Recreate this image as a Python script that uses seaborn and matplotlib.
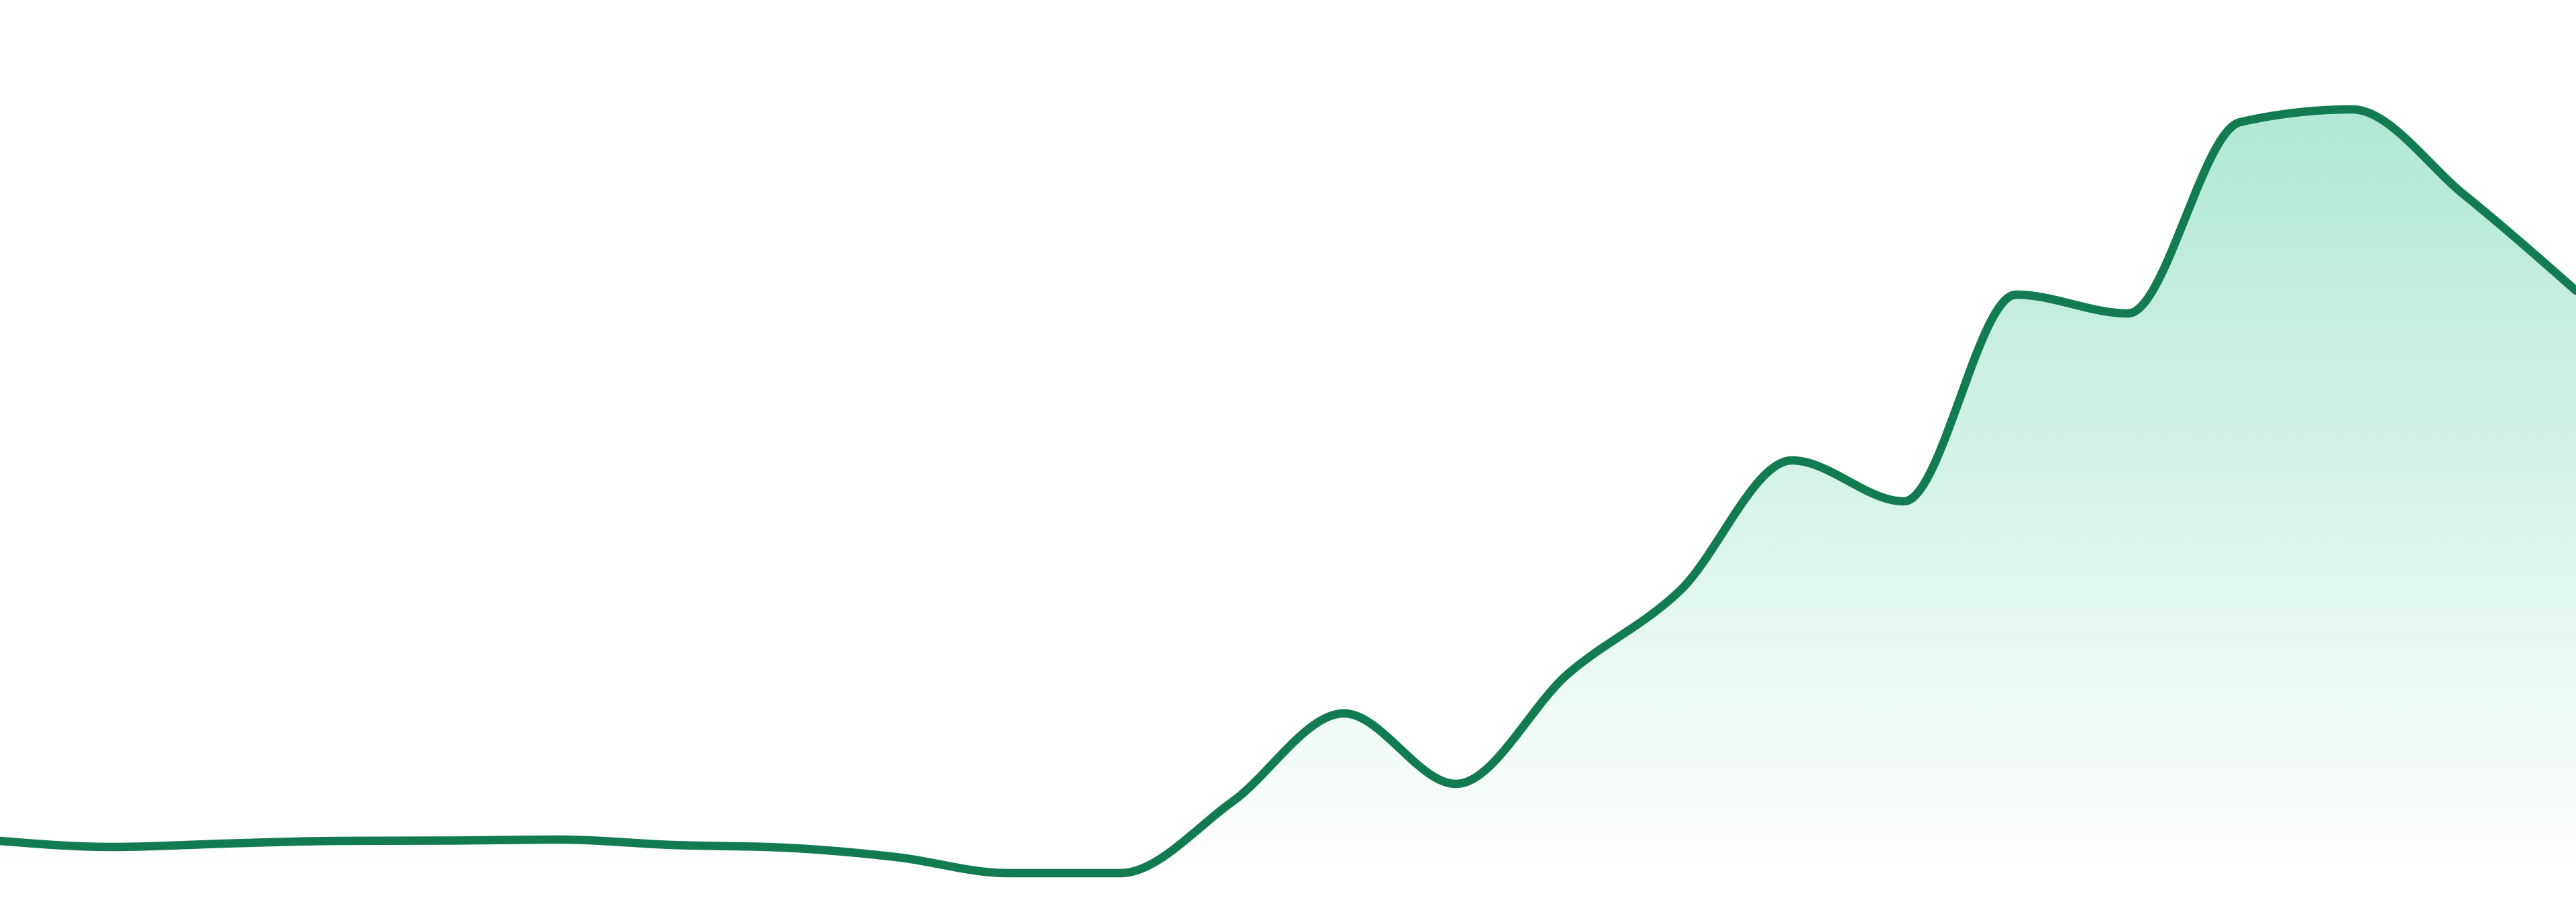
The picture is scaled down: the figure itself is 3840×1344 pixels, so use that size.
import numpy as np
import matplotlib
matplotlib.use("Agg")
import matplotlib.pyplot as plt
import seaborn as sns
from matplotlib.colors import to_rgb

# readings, one per step (arbitrary units)
steps = list(range(24))
values = [5.2, 4.3, 4.8, 5.2, 5.25, 5.4, 4.6, 4.2, 2.8, 0.4, 0.4, 11.0,
          24.2, 13.7, 30.1, 42.5, 61.9, 55.8, 86.6, 83.8, 112.3, 114.2, 101.5, 87.2]

line_color = "#127b52"
fill_color = "#10b981"


def monotone_curve(x, y, n=40):
    # monotone cubic (same idea as d3 curveMonotoneX)
    x = np.asarray(x, float)
    y = np.asarray(y, float)
    h = np.diff(x)
    s = np.diff(y) / h
    t = np.zeros_like(y)
    for i in range(1, len(y) - 1):
        p = (s[i - 1] * h[i] + s[i] * h[i - 1]) / (h[i - 1] + h[i])
        t[i] = (np.sign(s[i - 1]) + np.sign(s[i])) * min(abs(s[i - 1]), abs(s[i]), 0.5 * abs(p))
    t[0] = (3 * s[0] - t[1]) / 2
    t[-1] = (3 * s[-1] - t[-2]) / 2
    xs, ys = [], []
    for i in range(len(h)):
        u = np.linspace(0, 1, n, endpoint=(i == len(h) - 1))
        h00 = 2 * u**3 - 3 * u**2 + 1
        h10 = u**3 - 2 * u**2 + u
        h01 = -2 * u**3 + 3 * u**2
        h11 = u**3 - u**2
        xs.append(x[i] + u * h[i])
        ys.append(h00 * y[i] + h10 * h[i] * t[i] + h01 * y[i + 1] + h11 * h[i] * t[i + 1])
    return np.concatenate(xs), np.concatenate(ys)


sns.set_theme(style="white")
fig = plt.figure(figsize=(38.4, 13.44), dpi=100)
ax = fig.add_axes([0, 0, 1, 1])

cx, cy = monotone_curve(steps, values)

# gradient fill under the curve
poly = ax.fill_between(cx, cy, 0, color="none", lw=0)
top = max(values)
grad = np.zeros((256, 2, 4))
grad[..., :3] = to_rgb(fill_color)
grad[..., 3] = np.linspace(0.33, 0.0, 256)[:, None]
img = ax.imshow(grad, extent=[0, steps[-1], 0, top], origin="upper",
                aspect="auto", interpolation="bilinear", zorder=1)
img.set_clip_path(poly.get_paths()[0], transform=ax.transData)

sns.lineplot(x=cx, y=cy, ax=ax, color=line_color, linewidth=9, sort=False,
             estimator=None, zorder=3)

ax.set_xlim(0, steps[-1])
ax.set_ylim(-3.9, 130.5)
ax.axis("off")

fig.savefig("out.png", dpi=100)
